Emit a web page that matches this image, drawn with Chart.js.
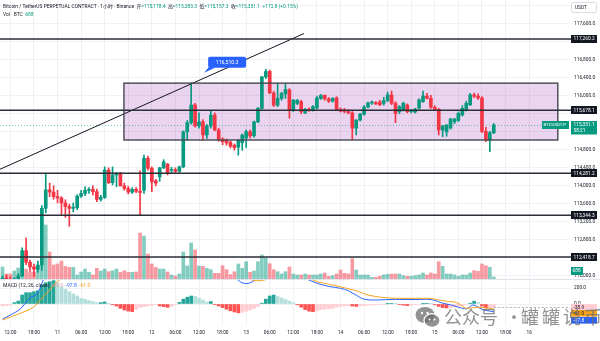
<!DOCTYPE html>
<html lang="zh">
<head>
<meta charset="utf-8">
<title>BTCUSDT.P 1小时</title>
<script src="https://cdn.jsdelivr.net/npm/chart.js@4.4.1/dist/chart.umd.min.js"></script>
<style>
  html, body { margin: 0; padding: 0; background: #ffffff; }
  #wrap { position: relative; width: 600px; height: 341px; overflow: hidden; background: #ffffff; }
  #wrap canvas { position: absolute; left: 0; }
  #priceCanvas { top: 0; }
  #macdCanvas { top: 279px; }
  .mark { position: absolute; top: 305px; color: rgba(110, 110, 110, 0.75); font-family: "Noto Sans CJK SC", sans-serif; font-size: 18px; line-height: 22px; white-space: nowrap; pointer-events: none; }
</style>
</head>
<body>
<div id="wrap">
  <canvas id="priceCanvas" width="600" height="279"></canvas>
  <canvas id="macdCanvas" width="600" height="62"></canvas>
  <svg class="mark" style="left:415px;top:306px" width="26" height="23" viewBox="0 0 26 23">
    <ellipse cx="10" cy="9" rx="9.5" ry="8" fill="rgba(110,110,110,0.75)"/>
    <ellipse cx="17" cy="14.5" rx="8" ry="6.8" fill="rgba(110,110,110,0.75)" stroke="#fff" stroke-width="1.2"/>
    <circle cx="7" cy="7" r="1.2" fill="#fff"/><circle cx="12.5" cy="7" r="1.2" fill="#fff"/>
    <circle cx="14.5" cy="13.5" r="1" fill="#fff"/><circle cx="19.5" cy="13.5" r="1" fill="#fff"/>
  </svg>
  <span class="mark" style="left:444px">公众号</span>
  <span class="mark" style="left:505px">·</span>
  <span class="mark" style="left:521px;letter-spacing:3px">罐罐说币</span>
</div>
<script>
// BTCUSDT.P, 1h candles from the 10th 10:00 to the 15th 15:00
const opens = [111880,111950,111910,111850,111930,112000,112560,112300,112200,112150,
  112240,113500,113910,113860,113760,113730,113620,113540,113500,113515,
  113770,113830,113900,113920,113870,113700,113740,114350,114070,114240,
  114270,114000,113940,113860,113920,113880,113900,114610,114390,114110,
  114200,114400,114480,114340,114360,114320,114420,115200,115400,115795,
  115330,115420,115130,115330,115570,115240,115040,115010,114970,114900,
  114860,114960,115060,115200,115110,115420,115720,116420,116540,116060,
  115790,115940,116040,116130,115680,115830,115870,115620,115690,115680,
  115730,115940,116010,115930,115880,115950,115700,115680,115650,115620,
  115280,115460,115590,115750,115840,115845,115860,115830,115890,116017,
  115832,115646,115683,115795,115650,115639,115728,115868,115994,115943,
  115744,115699,115239,115200,115284,115420,115450,115572,115683,115800,
  116017,115990,115950,115208,115017,115178.4];
const highs = [112000,112020,111980,111960,112050,112620,112840,112350,112260,112330,
  113560,114281.2,114060,114000,113900,113760,113690,113590,113620,113800,
  113900,113980,113960,114000,113930,113790,114420,114400,114420,114300,
  114300,114060,113990,113960,113960,114330,114680,114660,114420,114140,
  114410,114580,114500,114410,114400,114440,115220,115450,116283,115830,
  115620,115470,115360,115670,115620,115280,115070,115040,115000,114930,
  115030,115150,115240,115240,115440,115740,116430,116590,116570,116100,
  116280,116080,116270,116160,115920,115920,115900,115720,115730,115780,
  115990,116030,116020,115960,115960,115980,115730,115720,115690,115650,
  115470,115610,115780,115860,115880,115870,115900,115966,116083,116105,
  115870,115780,115860,115820,115700,115720,115930,116105,116054,116010,
  115780,115720,115340,115360,115500,115500,115640,115780,115880,116054,
  116060,116040,115980,115300,115210,115383.3];
const lows = [111820,111880,111800,111820,111900,111980,112250,112100,111990,112080,
  112120,113400,113760,113700,113620,113350,113300,113100,113420,113470,
  113740,113780,113830,113800,113650,113660,113720,114050,114020,113980,
  113990,113900,113820,113830,113850,113340,113830,114350,113870,114000,
  114100,114380,114240,114280,114290,114300,114400,115020,115370,115300,
  115280,115020,115050,115280,115220,114990,114910,114900,114840,114790,
  114680,114790,114850,115060,115080,115400,115700,116380,116050,115760,
  115760,115900,115940,115500,115650,115800,115600,115600,115650,115660,
  115700,115920,115900,115850,115860,115690,115640,115620,115600,115020,
  115130,115440,115570,115730,115810,115800,115780,115790,115870,115800,
  115402,115600,115660,115620,115620,115620,115700,115850,115930,115720,
  115680,115128,115091,115100,115260,115380,115430,115550,115660,115780,
  115960,115920,115180,114980,114757,115157.3];
const closes = [111950,111910,111850,111930,112000,112560,112300,112200,112150,112240,
  113500,113910,113860,113760,113730,113620,113540,113500,113515,113770,
  113830,113900,113920,113870,113700,113740,114350,114070,114240,114270,
  114000,113940,113860,113920,113880,113850,114610,114390,114090,114060,
  114400,114530,114280,114350,114320,114420,115200,115400,115795,115330,
  115420,115130,115330,115570,115240,115020,114980,114950,114880,114850,
  115010,115130,115200,115110,115420,115720,116420,116540,116060,115790,
  115940,116050,116140,115680,115900,115900,115650,115700,115680,115760,
  115950,116010,115930,115880,115940,115700,115660,115650,115620,115280,
  115460,115590,115750,115840,115845,115820,115800,115890,116017,115832,
  115610,115757,115832,115646,115660,115706,115906,115994,115943,115744,
  115699,115239,115328,115350,115484,115484,115610,115721,115832,116017,
  115990,115950,115208,115017,115178.3,115351.1];
// volume in BTC
const volumes = [4130,1720,1720,2750,3780,6880,3440,2410,2410,3440,
  24080,18580,9290,4820,5160,6190,4330,4020,4020,1380,
  2410,3440,2300,1380,3680,2750,3440,2510,2860,3440,
  2300,2860,2300,2300,2410,15820,14790,8600,5160,4020,
  3440,3440,2410,1380,1030,1720,9290,4470,12380,9980,
  4470,4370,3680,3200,1960,1960,4580,3200,1480,2510,
  5160,3680,5950,2300,2750,5950,8260,7120,5260,3200,
  2510,1720,2510,4130,1720,1380,1380,1720,1380,1380,
  1380,1720,2060,930,1140,1720,3100,1960,1720,6980,
  3100,1380,1380,1380,580,580,930,1380,1620,1720,
  1720,1720,1140,930,930,1140,1380,2060,1380,2060,
  1720,5950,4370,1720,1720,1380,930,1380,1380,2060,
  2860,2650,5160,4580,4020,688];

// MACD (12, 26, close)
const macdHist = [-25,-20,-12,17,37,112,142,142,154,167,
  237,267,279,292,267,217,183,154,125,100,
  71,58,42,29,17,17,25,8,-10,-25,
  -54,-75,-88,-96,-67,-42,-33,-25,-17,-8,
  -25,-33,-42,-30,-10,20,60,85,100,95,
  75,50,25,30,-8,-25,-45,-65,-85,-100,
  -110,-105,-90,-75,-55,-30,10,60,100,112,
  95,75,55,35,15,-10,-40,-70,-90,-96,
  -85,-70,-65,-60,-55,-40,-30,-25,-20,-25,
  -30,-25,-20,-15,-12,-10,-5,-3,2,8,
  3,-8,-15,-20,-15,-10,-5,2,8,3,
  -10,-30,-45,-50,-45,-40,-30,-20,-8,10,
  35,20,-25,-50,-45,-38.9];
const macdHours = [0, 2, 4.5, 7, 9, 10, 11, 14, 20, 28, 36, 43, 45, 48, 52, 56, 59, 61, 62, 64, 65, 67, 70, 73, 76, 78, 80, 83, 86, 88, 90, 92, 95, 100, 105, 108, 110, 112, 114, 116, 118, 119.7, 122, 125];
const macdValues = [-190, -137, -62, 75, 141, 259, 362, 480, 520, 470, 430, 330, 315, 400, 450, 400, 330, 265, 255, 290, 330, 420, 470, 430, 345, 300, 260, 220, 196, 166, 110, 60, 50, 58, 55, 60, 45, 10, -10, -40, -60, -12, -66, -97.8];
const signalHours = [0, 4.5, 8, 10, 12, 13.4, 16, 22, 30, 40, 46, 52, 58, 62, 65, 68, 72, 77, 79, 84, 90, 93, 101, 108, 112, 116, 118, 121, 125];
const signalValues = [-200, -116, -34, 71, 175, 259, 340, 450, 460, 380, 340, 390, 380, 320, 290, 320, 400, 370, 300, 237, 166, 112, 71, 71, 41, 9, -54, -41, -61];

// time axis (hour index of each label)
const timeTicks = [2, 8, 14, 20, 26, 32, 38, 44, 50, 56, 62, 68, 74, 80, 86, 92, 98, 104, 110, 116, 122, 128, 134];
const timeTickLabels = ['12:00', '18:00', '11', '06:00', '12:00', '18:00', '12', '06:00', '12:00', '18:00', '13', '06:00', '12:00', '18:00', '14', '06:00', '12:00', '18:00', '15', '06:00', '12:00', '18:00', '16'];

// drawings on the price pane
const levelPrices = [117260.2, 115678.1, 114281.2, 113344.3, 112418.7];
const boxHours = [30.9, 141.3];
const boxPrices = [115017, 116280];
const trendHours = [-0.64, 76.7];
const trendPrices = [114367, 117382];
const calloutHour = 51.3;
const calloutPrice = 116510.3;
const countdown = '58:21';

// ---- look ----
const fontFamily = 'Roboto, "Noto Sans CJK SC", sans-serif';
const textColor = '#131722';
const gridColor = '#f0f1f4';
const upColor = '#089981';
const downColor = '#f23645';
const macdColor = '#2962ff';
const signalColor = '#f7a21b';
const X_MIN = -0.64, X_MAX = 144.4;
const PRICE_MIN = 111930.4, PRICE_MAX = 118126.3;
const VOL_MAX = 96000;
const MACD_MIN = -275, MACD_MAX = 312.5;
const AXIS_WIDTH = 30;
const FONT_SIZE = 4.8;

const n = closes.length;
const hours = closes.map((c, i) => i);
const isUp = i => closes[i] >= opens[i];
const fmt = v => v.toLocaleString('en-US', { minimumFractionDigits: 1, maximumFractionDigits: 1 });
const font = (size, weight) => (weight || 'normal') + ' ' + size + 'px ' + fontFamily;

// keep the plot area flush with the canvas edges
const noPadding = s => { s.paddingTop = 0; s.paddingBottom = 0; s.paddingLeft = 0; s.paddingRight = 0; };

function timeScale(showLabels) {
    return {
        type: 'linear',
        min: X_MIN,
        max: X_MAX,
        offset: false,
        afterBuildTicks: s => { s.ticks = timeTicks.map(v => ({ value: v })); },
        ticks: {
            display: showLabels,
            autoSkip: false,
            maxRotation: 0,
            padding: 4,
            color: textColor,
            font: { family: fontFamily, size: FONT_SIZE },
            callback: (v, k) => timeTickLabels[k]
        },
        grid: { color: gridColor, drawTicks: false, offset: false },
        border: { display: false },
        afterFit: s => { s.height = showLabels ? 15 : 0; noPadding(s); }
    };
}

// label box on the right axis
function axisTag(ctx, cy, text, bg, fg, h) {
    h = h || 8;
    ctx.fillStyle = bg;
    ctx.fillRect(571, Math.round(cy - h / 2), 26, h);
    ctx.fillStyle = fg;
    ctx.textAlign = 'left';
    ctx.textBaseline = 'middle';
    ctx.fillText(text, 573.5, cy + 0.3);
}

// draws [text, color] pieces one after another
function drawRuns(ctx, x, y, runs) {
    runs.forEach(([text, color]) => {
        ctx.fillStyle = color;
        ctx.fillText(text, x, y);
        x += ctx.measureText(text).width;
    });
}

const priceOverlay = {
    id: 'priceOverlay',
    beforeDatasetsDraw(chart) {
        const { ctx, chartArea: a, scales: { x, y } } = chart;
        ctx.save();
        // range box
        const bx1 = x.getPixelForValue(boxHours[0]), bx2 = x.getPixelForValue(boxHours[1]);
        const by1 = y.getPixelForValue(boxPrices[1]), by2 = y.getPixelForValue(boxPrices[0]);
        ctx.fillStyle = 'rgba(156, 39, 176, 0.2)';
        ctx.fillRect(bx1, by1, bx2 - bx1, by2 - by1);
        // last price line
        const py = Math.round(y.getPixelForValue(closes[n - 1])) + 0.5;
        ctx.strokeStyle = 'rgba(8, 153, 129, 0.55)';
        ctx.lineWidth = 1;
        ctx.setLineDash([1, 2]);
        ctx.beginPath();
        ctx.moveTo(a.left, py);
        ctx.lineTo(a.right, py);
        ctx.stroke();
        ctx.restore();
    },
    afterDatasetsDraw(chart) {
        const { ctx, chartArea: a, scales: { x, y } } = chart;
        ctx.save();
        const bx1 = x.getPixelForValue(boxHours[0]), bx2 = x.getPixelForValue(boxHours[1]);
        const by1 = y.getPixelForValue(boxPrices[1]), by2 = y.getPixelForValue(boxPrices[0]);
        ctx.strokeStyle = '#45474f';
        ctx.lineWidth = 1.4;
        ctx.strokeRect(bx1, by1, bx2 - bx1, by2 - by1);
        // horizontal levels
        ctx.strokeStyle = '#2a2e39';
        ctx.lineWidth = 1.5;
        levelPrices.forEach(p => {
            const ly = y.getPixelForValue(p);
            ctx.beginPath();
            ctx.moveTo(a.left, ly);
            ctx.lineTo(a.right + 1, ly);
            ctx.stroke();
        });
        ctx.restore();
    },
    afterDraw(chart) {
        const { ctx, chartArea: a, scales: { x, y, vol } } = chart;
        ctx.save();
        ctx.font = font(FONT_SIZE);
        levelPrices.forEach(p => axisTag(ctx, y.getPixelForValue(p), fmt(p), '#131722', '#ffffff'));

        // last price tag with countdown
        const last = closes[n - 1];
        const py = y.getPixelForValue(last);
        ctx.fillStyle = upColor;
        ctx.fillRect(571, Math.round(py - 4), 26, 13.5);
        ctx.fillStyle = '#ffffff';
        ctx.textBaseline = 'middle';
        ctx.fillText(fmt(last), 573.5, py + 0.3);
        ctx.fillText(countdown, 573.5, py + 5.8);
        // symbol label
        ctx.fillStyle = upColor;
        ctx.fillRect(542, Math.round(py - 4), 27, 8);
        ctx.fillStyle = '#ffffff';
        ctx.font = font(4.4);
        ctx.fillText('BTCUSDT.P', 543.5, py + 0.3);

        // volume tag
        ctx.font = font(FONT_SIZE);
        const vy = Math.min(vol.getPixelForValue(volumes[n - 1]), a.bottom - 8);
        ctx.fillStyle = upColor;
        ctx.fillRect(571, Math.round(vy - 4), 12, 8);
        ctx.fillStyle = '#ffffff';
        ctx.fillText(String(volumes[n - 1]), 572.5, vy + 0.3);

        // currency box
        ctx.fillStyle = '#ffffff';
        ctx.strokeStyle = '#d1d4dc';
        ctx.lineWidth = 0.8;
        ctx.beginPath();
        ctx.roundRect(571.5, 2.5, 25, 10, 2);
        ctx.fill();
        ctx.stroke();
        ctx.fillStyle = textColor;
        ctx.fillText('USDT', 575, 7.8);

        // callout
        const cx = x.getPixelForValue(calloutHour), cy = y.getPixelForValue(calloutPrice);
        const bl = cx + 4, bb = cy - 5;
        ctx.fillStyle = '#2962ff';
        ctx.beginPath();
        ctx.roundRect(bl, bb - 11, 38, 11, 2);
        ctx.fill();
        ctx.beginPath();
        ctx.moveTo(bl + 1, bb - 1);
        ctx.lineTo(bl + 7, bb);
        ctx.lineTo(cx, cy);
        ctx.closePath();
        ctx.fill();
        ctx.fillStyle = '#ffffff';
        ctx.font = font(5.2);
        ctx.textAlign = 'center';
        ctx.fillText(fmt(calloutPrice), bl + 19, bb - 5.3);

        // legend lines
        ctx.textAlign = 'left';
        ctx.font = font(4.9);
        const chg = closes[n - 1] - closes[n - 2];
        const pct = chg / closes[n - 2] * 100;
        const vc = chg >= 0 ? upColor : downColor;
        const sign = chg >= 0 ? '+' : '';
        drawRuns(ctx, 3, 7, [
            ['Bitcoin / TetherUS PERPETUAL CONTRACT · 1小时 · Binance', textColor],
            ['  开', textColor], ['=' + fmt(opens[n - 1]), vc],
            ['  高', textColor], ['=' + fmt(highs[n - 1]), vc],
            ['  低', textColor], ['=' + fmt(lows[n - 1]), vc],
            ['  收', textColor], ['=' + fmt(closes[n - 1]), vc],
            ['  ' + sign + fmt(chg) + ' (' + sign + pct.toFixed(2) + '%)', vc]
        ]);
        drawRuns(ctx, 3, 14.5, [['Vol · BTC', textColor], ['  ' + volumes[n - 1], vc]]);
        ctx.restore();
    }
};

new Chart(document.getElementById('priceCanvas'), {
    type: 'bar',
    data: {
        datasets: [
            {
                label: 'Vol',
                yAxisID: 'vol',
                data: hours.map(i => ({ x: i, y: volumes[i] })),
                backgroundColor: c => isUp(c.dataIndex) ? 'rgba(8, 153, 129, 0.5)' : 'rgba(242, 54, 69, 0.5)',
                barThickness: 3,
                grouped: false,
                order: 3
            },
            {
                label: 'wicks',
                yAxisID: 'y',
                data: hours.map(i => ({ x: i, y: [lows[i], highs[i]] })),
                backgroundColor: c => isUp(c.dataIndex) ? upColor : downColor,
                barThickness: 1,
                grouped: false,
                order: 2
            },
            {
                label: 'bodies',
                yAxisID: 'y',
                data: hours.map(i => ({ x: i, y: [opens[i], closes[i]] })),
                backgroundColor: c => isUp(c.dataIndex) ? upColor : downColor,
                barThickness: 3,
                minBarLength: 1,
                grouped: false,
                order: 1
            },
            {
                type: 'line',
                label: 'trend',
                yAxisID: 'y',
                data: trendHours.map((h, k) => ({ x: h, y: trendPrices[k] })),
                borderColor: '#131722',
                borderWidth: 1,
                pointRadius: 0,
                order: 0
            }
        ]
    },
    options: {
        responsive: false,
        animation: false,
        events: [],
        layout: { padding: 0 },
        plugins: { legend: { display: false }, tooltip: { enabled: false } },
        scales: {
            x: timeScale(false),
            y: {
                position: 'right',
                min: PRICE_MIN,
                max: PRICE_MAX,
                afterBuildTicks: s => {
                    const t = [];
                    for (let v = 112000; v <= 118000; v += 400) t.push({ value: v });
                    s.ticks = t;
                },
                ticks: {
                    autoSkip: false,
                    padding: 4,
                    color: textColor,
                    font: { family: fontFamily, size: FONT_SIZE },
                    // ticks under a label box are left out
                    callback: v => {
                        if (levelPrices.some(p => Math.abs(p - v) < 100)) return '';
                        if (Math.abs(v - closes[n - 1]) < 300) return '';
                        return fmt(v);
                    }
                },
                grid: { color: gridColor, drawTicks: false },
                border: { display: false },
                afterFit: s => { s.width = AXIS_WIDTH; noPadding(s); }
            },
            vol: { display: false, min: 0, max: VOL_MAX }
        }
    },
    plugins: [priceOverlay]
});

const histColor = c => {
    const i = c.dataIndex, v = macdHist[i], prev = i > 0 ? macdHist[i - 1] : v;
    if (v >= 0) return v >= prev ? '#26a69a' : '#b2dfdb';
    return v < prev ? '#ff5252' : '#ffcdd2';
};

const macdOverlay = {
    id: 'macdOverlay',
    afterDraw(chart) {
        const { ctx, chartArea: a, scales: { m } } = chart;
        ctx.save();
        ctx.strokeStyle = '#e0e3eb';
        ctx.lineWidth = 1;
        ctx.beginPath();
        ctx.moveTo(0, 0.5);
        ctx.lineTo(600, 0.5);
        ctx.stroke();

        ctx.font = font(5);
        ctx.textBaseline = 'middle';
        const hLast = macdHist[n - 1], mLast = macdValues[macdValues.length - 1], sLast = signalValues[signalValues.length - 1];
        drawRuns(ctx, 3, 7, [
            ['MACD (12, 26, close)  ', textColor],
            [fmt(hLast) + '  ', '#f5a3ab'],
            [fmt(mLast) + '  ', macdColor],
            [fmt(sLast), signalColor]
        ]);

        // dashed line at the last histogram value
        const hy = Math.round(m.getPixelForValue(hLast)) + 0.5;
        ctx.strokeStyle = 'rgba(120, 123, 134, 0.6)';
        ctx.setLineDash([2, 2]);
        ctx.beginPath();
        ctx.moveTo(chart.scales.x.getPixelForValue(n - 1), hy);
        ctx.lineTo(a.right, hy);
        ctx.stroke();
        ctx.setLineDash([]);

        // value tags, pushed apart so they do not overlap
        ctx.font = font(FONT_SIZE);
        const tags = [
            { v: hLast, bg: '#ffcdd2', fg: textColor },
            { v: sLast, bg: signalColor, fg: textColor },
            { v: mLast, bg: macdColor, fg: '#ffffff' }
        ].map(t => Object.assign(t, { y: m.getPixelForValue(t.v) })).sort((p, q) => p.y - q.y);
        let prevY = -Infinity;
        tags.forEach(t => {
            t.y = Math.max(t.y, prevY + 6.6);
            prevY = t.y;
            axisTag(ctx, t.y, fmt(t.v), t.bg, t.fg, 6.6);
        });
        ctx.restore();
    }
};

new Chart(document.getElementById('macdCanvas'), {
    type: 'bar',
    data: {
        datasets: [
            {
                label: 'Histogram',
                yAxisID: 'm',
                data: hours.map(i => ({ x: i, y: macdHist[i] })),
                backgroundColor: histColor,
                barThickness: 3,
                grouped: false,
                order: 2
            },
            {
                type: 'line',
                label: 'MACD',
                yAxisID: 'm',
                data: macdHours.map((h, k) => ({ x: h, y: macdValues[k] })),
                borderColor: macdColor,
                borderWidth: 1,
                pointRadius: 0,
                cubicInterpolationMode: 'monotone',
                order: 1
            },
            {
                type: 'line',
                label: 'Signal',
                yAxisID: 'm',
                data: signalHours.map((h, k) => ({ x: h, y: signalValues[k] })),
                borderColor: signalColor,
                borderWidth: 1,
                pointRadius: 0,
                cubicInterpolationMode: 'monotone',
                order: 0
            }
        ]
    },
    options: {
        responsive: false,
        animation: false,
        events: [],
        layout: { padding: 0 },
        plugins: { legend: { display: false }, tooltip: { enabled: false } },
        scales: {
            x: timeScale(true),
            m: {
                position: 'right',
                min: MACD_MIN,
                max: MACD_MAX,
                afterBuildTicks: s => { s.ticks = [{ value: 200 }, { value: 0 }]; },
                ticks: {
                    autoSkip: false,
                    padding: 4,
                    color: textColor,
                    font: { family: fontFamily, size: FONT_SIZE },
                    callback: v => fmt(v)
                },
                grid: { color: gridColor, drawTicks: false },
                border: { display: false },
                afterFit: s => { s.width = AXIS_WIDTH; noPadding(s); }
            }
        }
    },
    plugins: [macdOverlay]
});
</script>
</body>
</html>
